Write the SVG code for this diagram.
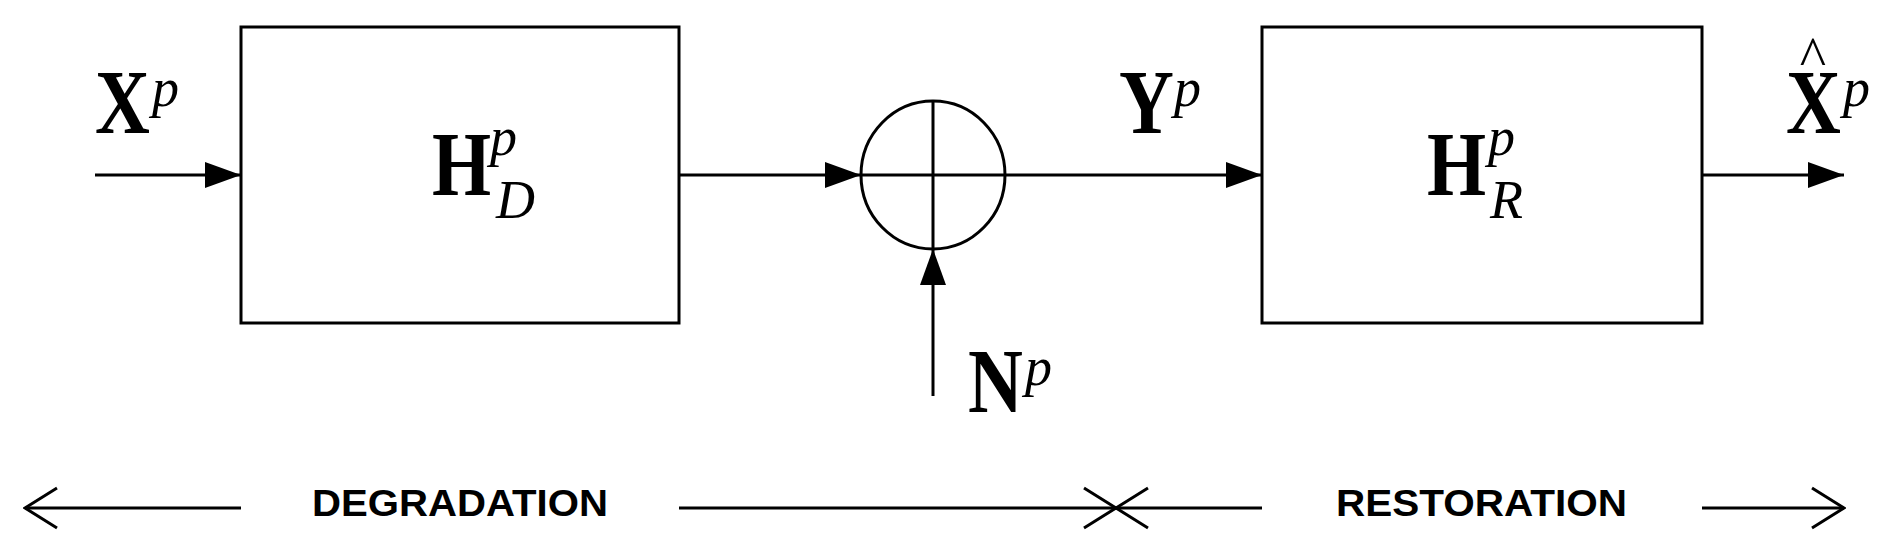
<svg xmlns="http://www.w3.org/2000/svg" width="1890" height="544" viewBox="0 0 1890 544">
<style>
.ln{stroke:#000;stroke-width:3;fill:none}
.m{font-family:"Liberation Serif",serif;font-weight:bold;font-size:76px}
.i{font-family:"Liberation Serif",serif;font-style:italic;font-size:54px}
.lab{font-family:"Liberation Sans",sans-serif;font-weight:bold;font-size:36px}
</style>
<defs>
<marker id="f" markerWidth="36" markerHeight="26" refX="36" refY="13" orient="auto" markerUnits="userSpaceOnUse"><path d="M0,0L36,13L0,26z"/></marker>
<marker id="o" markerWidth="36" markerHeight="44" refX="34" refY="22" orient="auto" markerUnits="userSpaceOnUse"><path d="M2,2L34,22L2,42" fill="none" stroke="#000" stroke-width="3"/></marker>
</defs>
<g id="box1"><rect class="ln" x="241" y="27" width="438" height="296"/>
<text x="432" y="195" class="m" transform="matrix(1,0,0,1.2,0,-39)">H</text><text x="490" y="155" class="i">p</text><text x="496" y="218" class="i">D</text></g>
<g id="sum"><ellipse class="ln" cx="933" cy="175" rx="72" ry="74"/><path class="ln" d="M933,101V249M861,175H1005" stroke-width="2"/></g>
<g id="box2"><rect class="ln" x="1262" y="27" width="440" height="296"/>
<text x="1427" y="195" class="m" transform="matrix(1,0,0,1.2,0,-39)">H</text><text x="1488" y="155" class="i">p</text><text x="1490" y="218" class="i">R</text></g>
<g id="labels">
<text x="95" y="133" class="m" transform="matrix(1,0,0,1.2,0,-26.6)">X</text><text x="152" y="106" class="i">p</text>
<text x="1119" y="133" class="m" transform="matrix(1,0,0,1.2,0,-26.6)">Y</text><text x="1174" y="106" class="i">p</text>
<text x="968" y="412" class="m" transform="matrix(1,0,0,1.2,0,-82.4)">N</text><text x="1025" y="385" class="i">p</text>
<text x="1786" y="133" class="m" transform="matrix(1,0,0,1.2,0,-26.6)">X</text><text x="1813" y="76" text-anchor="middle" font-family="Liberation Serif,serif" font-size="56">^</text><text x="1843" y="106" class="i">p</text>
<text x="312" y="516" class="lab" textLength="296" lengthAdjust="spacingAndGlyphs">DEGRADATION</text>
<text x="1336" y="516" class="lab" textLength="291" lengthAdjust="spacingAndGlyphs">RESTORATION</text>
</g>
<g id="connectors">
<path class="ln" d="M95,175H241" marker-end="url(#f)"/>
<path class="ln" d="M679,175H861" marker-end="url(#f)"/>
<path class="ln" d="M1005,175H1262" marker-end="url(#f)"/>
<path class="ln" d="M1702,175H1844" marker-end="url(#f)"/>
<path class="ln" d="M933,396V249" marker-end="url(#f)"/>
<path class="ln" d="M241,508H25" marker-end="url(#o)"/>
<path class="ln" d="M679,508H1116" marker-end="url(#o)"/>
<path class="ln" d="M1262,508H1116" marker-end="url(#o)"/>
<path class="ln" d="M1702,508H1844" marker-end="url(#o)"/>
</g>
</svg>
